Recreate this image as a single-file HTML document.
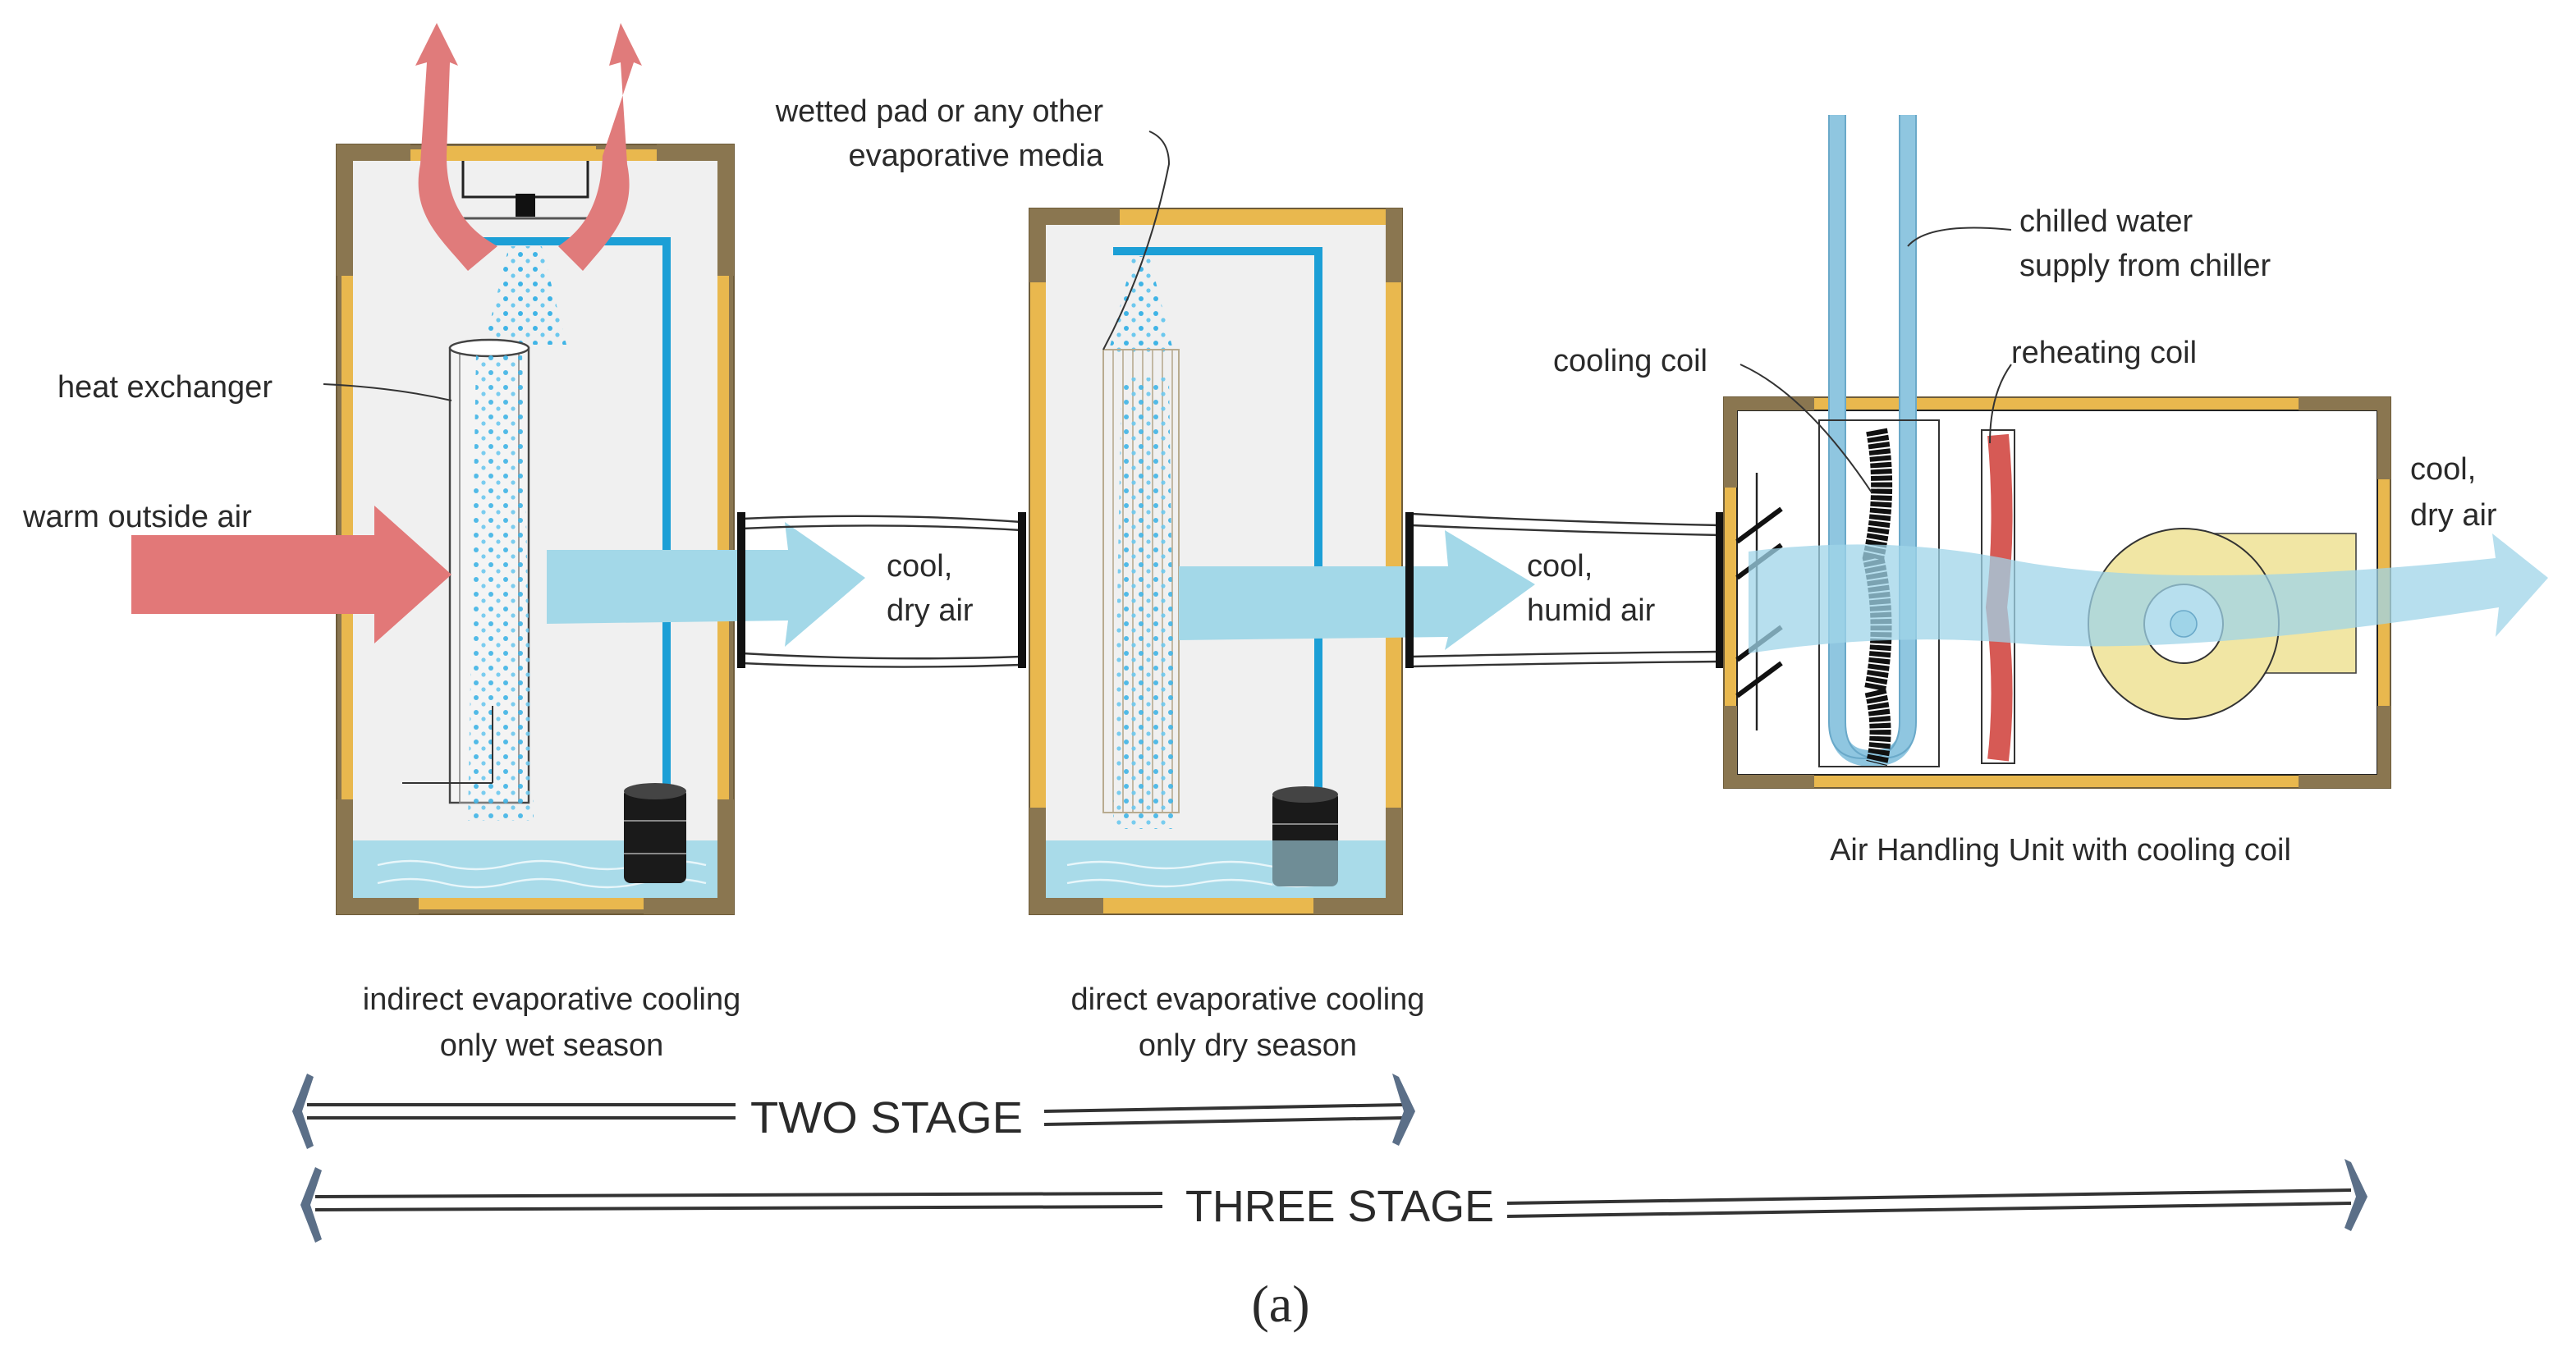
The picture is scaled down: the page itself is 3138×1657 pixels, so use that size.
<!DOCTYPE html>
<html><head><meta charset="utf-8"><style>
html,body{margin:0;padding:0;background:#fff;width:3138px;height:1657px;overflow:hidden}
svg{display:block}
text{font-family:"Liberation Sans",sans-serif;fill:#2a2a2a}
</style></head><body>
<svg width="3138" height="1657" viewBox="0 0 1569 828.5" xmlns="http://www.w3.org/2000/svg">
<defs>
<pattern id="sp" width="9" height="9" patternUnits="userSpaceOnUse">
<circle cx="2" cy="2" r="1.5" fill="#3fb4e6"/><circle cx="6.5" cy="6" r="1.3" fill="#6cc8ee"/>
</pattern>
</defs>

<!-- ================= BOX 1 ================= -->
<rect x="205" y="88" width="242" height="469" fill="#8a7650"/>
<rect x="208" y="91" width="236" height="463" fill="#e9b84e"/>
<rect x="205" y="88" width="242" height="469" fill="none" stroke="#6e5c3a" stroke-width="1"/>
<rect x="215" y="98" width="222" height="449" fill="#f0f0f0"/>
<rect x="205" y="88" width="10" height="80" fill="#8a7650"/><rect x="437" y="88" width="10" height="80" fill="#8a7650"/>
<rect x="205" y="487" width="10" height="70" fill="#8a7650"/><rect x="437" y="487" width="10" height="70" fill="#8a7650"/>
<rect x="205" y="547" width="50" height="10" fill="#8a7650"/><rect x="392" y="547" width="55" height="10" fill="#8a7650"/>
<rect x="205" y="88" width="45" height="10" fill="#8a7650"/><rect x="400" y="88" width="47" height="10" fill="#8a7650"/>
<rect x="268" y="89" width="95" height="8" fill="#e9b84e"/>
<rect x="215" y="512" width="222" height="35" fill="#a9dbe9"/>
<path d="M230 527 q20 -5 40 0 t40 0 t40 0 t40 0 t40 0" stroke="#e8f6fa" fill="none" stroke-width="1.2"/>
<path d="M230 538 q20 -5 40 0 t40 0 t40 0 t40 0 t40 0" stroke="#e8f6fa" fill="none" stroke-width="1.2"/>
<path d="M282 98 L282 120 L358 120 L358 98" fill="none" stroke="#222" stroke-width="1.5"/>
<rect x="314" y="118" width="12" height="14" fill="#111"/>
<line x1="272" y1="133" x2="370" y2="133" stroke="#555" stroke-width="1.5"/>
<path d="M290 147 H406 V478" fill="none" stroke="#1c9fd6" stroke-width="5"/>
<polygon points="310,150 330,150 345,210 295,210" fill="url(#sp)"/>
<rect x="274" y="212" width="48" height="277" fill="#f4f4f4" stroke="#444" stroke-width="1.2"/>
<rect x="280" y="212" width="36" height="277" fill="none" stroke="#888" stroke-width="0.8"/>
<ellipse cx="298" cy="212" rx="24" ry="5" fill="#fff" stroke="#444" stroke-width="1.2"/>
<polygon points="290,215 318,215 325,500 285,500" fill="url(#sp)" opacity="0.9"/>
<line x1="245" y1="477" x2="300" y2="477" stroke="#333" stroke-width="1"/>
<line x1="300" y1="430" x2="300" y2="477" stroke="#333" stroke-width="1"/>
<rect x="380" y="480" width="38" height="58" rx="4" fill="#1a1a1a"/>
<ellipse cx="399" cy="482" rx="19" ry="5" fill="#444"/>
<line x1="380" y1="500" x2="418" y2="500" stroke="#888"/><line x1="380" y1="520" x2="418" y2="520" stroke="#888"/>
<!-- red exhaust arrows -->
<path d="M285 165 C268 145 250 130 256 100 L260 38 L253 40 L266 14 L279 40 L274 38 L272 95 C272 125 285 140 303 150 Z" fill="#e07b7b"/>
<path d="M355 165 C372 145 388 130 382 100 L378 38 L371 40 L378 14 L391 40 L386 38 L367 95 C366 125 355 140 340 150 Z" fill="#e07b7b"/>
<polygon points="80,326 228,326 228,308 275,350 228,392 228,374 80,374" fill="#e27878"/>
<polygon points="333,335 480,335 478,318 527,352 478,394 480,378 333,380" fill="#a3d8e8"/>

<!-- duct 1 -->
<path d="M452 316 Q540 312 622 318" fill="none" stroke="#333" stroke-width="1.2"/>
<path d="M452 322 Q540 318 622 323" fill="none" stroke="#333" stroke-width="1.2"/>
<path d="M452 398 Q540 403 622 400" fill="none" stroke="#333" stroke-width="1.2"/>
<path d="M452 404 Q540 408 622 405" fill="none" stroke="#333" stroke-width="1.2"/>
<rect x="449" y="312" width="5" height="95" fill="#111"/>
<rect x="620" y="312" width="5" height="95" fill="#111"/>
<text x="540" y="351" font-size="19">cool,</text>
<text x="540" y="378" font-size="19">dry air</text>

<!-- ================= BOX 2 ================= -->
<rect x="627" y="127" width="227" height="430" fill="#e9b84e" stroke="#6e5c3a"/>
<rect x="637" y="137" width="207" height="410" fill="#f0f0f0"/>
<rect x="627" y="127" width="10" height="45" fill="#8a7650"/><rect x="844" y="127" width="10" height="45" fill="#8a7650"/>
<rect x="627" y="127" width="55" height="10" fill="#8a7650"/>
<rect x="627" y="492" width="10" height="65" fill="#8a7650"/><rect x="844" y="492" width="10" height="65" fill="#8a7650"/>
<rect x="627" y="547" width="45" height="10" fill="#8a7650"/><rect x="800" y="547" width="54" height="10" fill="#8a7650"/>
<rect x="637" y="512" width="207" height="35" fill="#a9dbe9"/>
<path d="M650 527 q20 -4 40 0 t40 0 t40 0 t40 0" stroke="#e8f6fa" fill="none" stroke-width="1.2"/>
<path d="M650 538 q20 -4 40 0 t40 0 t40 0 t40 0" stroke="#e8f6fa" fill="none" stroke-width="1.2"/>
<path d="M678 153 H803 V488" fill="none" stroke="#1c9fd6" stroke-width="5"/>
<polygon points="690,156 700,156 715,215 675,215" fill="url(#sp)"/>
<rect x="672" y="213" width="46" height="282" fill="none" stroke="#b8ab90" stroke-width="1"/>
<g stroke="#b8ab90" stroke-width="0.8">
<line x1="678" y1="213" x2="678" y2="495"/><line x1="684" y1="213" x2="684" y2="495"/><line x1="690" y1="213" x2="690" y2="495"/>
<line x1="696" y1="213" x2="696" y2="495"/><line x1="702" y1="213" x2="702" y2="495"/><line x1="708" y1="213" x2="708" y2="495"/><line x1="714" y1="213" x2="714" y2="495"/>
</g>
<polygon points="683,230 712,230 716,505 678,505" fill="url(#sp)" opacity="0.9"/>
<rect x="775" y="482" width="40" height="58" rx="4" fill="#1a1a1a"/>
<ellipse cx="795" cy="484" rx="20" ry="5" fill="#444"/>
<line x1="775" y1="502" x2="815" y2="502" stroke="#888"/>
<rect x="775" y="512" width="40" height="28" fill="#a9dbe9" opacity="0.6"/>
<polygon points="718,345 882,345 880,323 935,356 880,396 882,388 718,390" fill="#a3d8e8"/>
<path d="M672 213 Q700 160 712 100 Q712 85 700 80" fill="none" stroke="#333" stroke-width="1"/>

<!-- duct 2 -->
<path d="M860 313 Q950 318 1048 320" fill="none" stroke="#333" stroke-width="1.2"/>
<path d="M860 320 Q950 324 1048 326" fill="none" stroke="#333" stroke-width="1.2"/>
<path d="M860 400 Q950 398 1048 397" fill="none" stroke="#333" stroke-width="1.2"/>
<path d="M860 406 Q950 404 1048 403" fill="none" stroke="#333" stroke-width="1.2"/>
<rect x="856" y="312" width="5" height="95" fill="#111"/>
<rect x="1045" y="312" width="5" height="95" fill="#111"/>
<text x="930" y="351" font-size="19">cool,</text>
<text x="930" y="378" font-size="19">humid air</text>

<!-- ================= AHU ================= -->
<rect x="1050" y="242" width="406" height="238" fill="#e9b84e" stroke="#6e5c3a"/>
<rect x="1058" y="250" width="390" height="222" fill="#fff" stroke="#222" stroke-width="1"/>
<rect x="1050" y="242" width="55" height="8" fill="#8a7650"/><rect x="1400" y="242" width="56" height="8" fill="#8a7650"/>
<rect x="1050" y="242" width="8" height="55" fill="#8a7650"/><rect x="1448" y="242" width="8" height="50" fill="#8a7650"/>
<rect x="1050" y="430" width="8" height="50" fill="#8a7650"/><rect x="1448" y="430" width="8" height="50" fill="#8a7650"/>
<rect x="1050" y="472" width="55" height="8" fill="#8a7650"/><rect x="1400" y="472" width="56" height="8" fill="#8a7650"/>
<path d="M1119 70 V440 Q1119 462 1140 462 Q1162 462 1162 440 V70" fill="none" stroke="#8fc6e0" stroke-width="10"/>
<path d="M1119 70 V440 Q1119 462 1140 462 Q1162 462 1162 440 V70" fill="none" stroke="#6aa9c9" stroke-width="1" transform="translate(-5,0)"/>
<path d="M1119 70 V440 Q1119 462 1140 462 Q1162 462 1162 440 V70" fill="none" stroke="#6aa9c9" stroke-width="1" transform="translate(5,0)"/>
<rect x="1108" y="256" width="73" height="211" fill="none" stroke="#333" stroke-width="1"/>
<path d="M1143 262 Q1150 300 1141 340 Q1150 380 1142 420 Q1148 445 1143 465" stroke="#111" stroke-width="13" fill="none" stroke-dasharray="3 1"/>
<rect x="1207" y="262" width="20" height="203" fill="none" stroke="#333" stroke-width="1"/>
<path d="M1217 265 Q1222 320 1216 370 Q1222 420 1217 463" stroke="#d65a55" stroke-width="13" fill="none"/>
<rect x="1330" y="325" width="105" height="85" fill="#f1e6a4" stroke="#444" stroke-width="0.8"/>
<circle cx="1330" cy="380" r="58" fill="#f1e6a4" stroke="#333" stroke-width="1"/>
<circle cx="1330" cy="380" r="24" fill="#fff" stroke="#333" stroke-width="1"/>
<line x1="1070" y1="288" x2="1070" y2="445" stroke="#222" stroke-width="1.2"/>
<g stroke="#111" stroke-width="3">
<line x1="1058" y1="330" x2="1085" y2="310"/><line x1="1058" y1="352" x2="1085" y2="332"/>
<line x1="1058" y1="402" x2="1085" y2="382"/><line x1="1058" y1="424" x2="1085" y2="404"/>
</g>
<path d="M1065 336 Q1150 325 1230 342 Q1330 360 1520 340 L1518 325 L1552 352 L1520 388 L1522 370 Q1330 400 1230 392 Q1150 385 1065 398 Z" fill="#9fd4e8" opacity="0.75"/>
<circle cx="1330" cy="380" r="8" fill="#9fd4e8" stroke="#6aa9c9" stroke-width="0.8"/>
<path d="M1162 150 Q1175 135 1225 140" fill="none" stroke="#333" stroke-width="1"/>
<path d="M1060 222 Q1100 240 1140 300" fill="none" stroke="#333" stroke-width="1"/>
<path d="M1225 222 Q1212 240 1212 270" fill="none" stroke="#333" stroke-width="1"/>
<path d="M197 234 Q240 236 275 244" fill="none" stroke="#333" stroke-width="1"/>

<text x="672" y="74" font-size="19" text-anchor="end">wetted pad or any other</text>
<text x="672" y="101" font-size="19" text-anchor="end">evaporative media</text>
<text x="35" y="242" font-size="19">heat exchanger</text>
<text x="14" y="321" font-size="19">warm outside air</text>
<text x="1230" y="141" font-size="19">chilled water</text>
<text x="1230" y="168" font-size="19">supply from chiller</text>
<text x="946" y="226" font-size="19">cooling coil</text>
<text x="1225" y="221" font-size="19">reheating coil</text>
<text x="1468" y="292" font-size="19">cool,</text>
<text x="1468" y="320" font-size="19">dry air</text>
<text x="1255" y="524" font-size="19" text-anchor="middle">Air Handling Unit with cooling coil</text>
<text x="336" y="615" font-size="19" text-anchor="middle">indirect evaporative cooling</text>
<text x="336" y="643" font-size="19" text-anchor="middle">only wet season</text>
<text x="760" y="615" font-size="19" text-anchor="middle">direct evaporative cooling</text>
<text x="760" y="643" font-size="19" text-anchor="middle">only dry season</text>

<g stroke="#333" stroke-width="2" fill="none">
<line x1="187" y1="673" x2="448" y2="673"/><line x1="187" y1="681" x2="448" y2="681"/>
<line x1="636" y1="677" x2="855" y2="673"/><line x1="636" y1="685" x2="855" y2="681"/>
<line x1="192" y1="729" x2="708" y2="727"/><line x1="192" y1="737" x2="708" y2="735"/>
<line x1="918" y1="733" x2="1432" y2="725"/><line x1="918" y1="741" x2="1432" y2="733"/>
</g>
<g fill="#5b6f88">
<polygon points="187,654 191,656 184,677 191,698 187,700 178,677"/>
<polygon points="848,654 852,656 862,677 852,698 848,696 855,677"/>
<polygon points="192,711 196,713 189,734 196,755 192,757 183,734"/>
<polygon points="1428,706 1432,708 1442,729 1432,750 1428,748 1435,729"/>
</g>
<text x="540" y="690" font-size="27" text-anchor="middle" fill="#222" textLength="166" lengthAdjust="spacingAndGlyphs">TWO STAGE</text>
<text x="816" y="744" font-size="27" text-anchor="middle" fill="#222" textLength="188" lengthAdjust="spacingAndGlyphs">THREE STAGE</text>
<text x="780" y="805" font-size="32" text-anchor="middle" style="font-family:'Liberation Serif',serif" fill="#000">(a)</text>
</svg>
</body></html>
